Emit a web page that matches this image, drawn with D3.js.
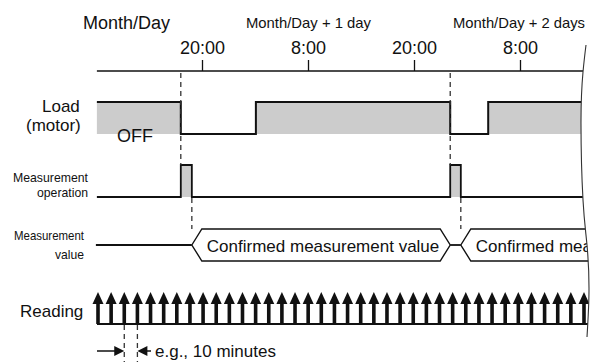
<!DOCTYPE html>
<html><head><meta charset="utf-8">
<script src="https://cdn.jsdelivr.net/npm/d3@7"></script>
<style>body{margin:0;background:#fff}svg{display:block}text{font-family:"Liberation Sans",Arial,sans-serif;fill:#111}</style>
</head><body><svg id="c" width="595" height="362"></svg>
<script>
// ---- data (hours from Month/Day 00:00) ----
const tickHours = [20, 32, 44, 56];
const tickLabels = ["20:00", "8:00", "20:00", "8:00"];
const dayLabels = ["Month/Day", "Month/Day + 1 day", "Month/Day + 2 days"];
const loadTimes = [8.1, 17.6, 26.1, 48.1, 52.4, 66];   // state changes
const loadLevels = [1, 0, 1, 0, 1];                    // 1 = ON (motor running), 0 = OFF
const measureStart = [17.6, 48.1];
const measureEnd = [18.85, 49.3];
const valueStart = [18.85, 49.3];
const valueEnd = [48.1, 72];
const valueLabels = ["Confirmed measurement value", "Confirmed mea"];
const readingCount = 38;
const rowLabels = ["Load", "(motor)", "Measurement", "operation", "Measurement", "value", "Reading"];

const svg = d3.select("#c");
const x = d3.scaleLinear().domain([20, 56]).range([202, 520]);
const xEnd = x(66);
const yLoad = d3.scaleLinear().domain([0, 1]).range([134, 102]);
const yOp = d3.scaleLinear().domain([0, 1]).range([197, 165]);
const yVal = 245, hv = 16, tip = 10;
const axisY = 71;

// ---- break curve & clip ----
const breakPts = [[586,45],[583,72],[581,120],[583,200],[587,245],[589,290],[587,337]];
const breakLine = d3.line().curve(d3.curveNatural);
const bStr = breakLine(breakPts);
const clipD = "M0,0L586,0" + bStr.replace(/^M/, "L") + "L587,362L0,362Z";
svg.append("defs").append("clipPath").attr("id", "clip").append("path").attr("d", clipD);
const g = svg.append("g").attr("clip-path", "url(#clip)");

// ---- time axis ----
const axis = d3.axisTop(x).tickValues(tickHours).tickFormat((d, i) => tickLabels[i]).tickSize(11).tickSizeOuter(0);
const ax = g.append("g").attr("transform", `translate(0,${axisY})`).call(axis);
ax.select(".domain").remove();
ax.selectAll(".tick line").attr("stroke", "#111").attr("stroke-width", 1.3);
ax.selectAll(".tick text").attr("font-size", 18).attr("dy", "-0.15em").attr("fill", "#111").attr("font-family", '"Liberation Sans",Arial,sans-serif');
g.append("line").attr("x1", x(8.1)).attr("x2", xEnd).attr("y1", axisY).attr("y2", axisY).attr("stroke", "#111").attr("stroke-width", 1.3);

const dayPos = [[83, 29, 18, null], [246, 28, 15, 125], [453, 28, 15, 132]];
dayLabels.forEach((t, i) => {
  const p = dayPos[i];
  const tx = svg.append("text").attr("x", p[0]).attr("y", p[1]).attr("font-size", p[2]).text(t);
  if (p[3]) tx.attr("textLength", p[3]).attr("lengthAdjust", "spacingAndGlyphs");
});

// ---- load row ----
const loadSeg = loadLevels.map((l, i) => ({ a: loadTimes[i], b: loadTimes[i + 1], l }));
g.selectAll("rect.load").data(loadSeg.filter(d => d.l === 1)).join("rect")
  .attr("x", d => x(d.a)).attr("width", d => x(d.b) - x(d.a))
  .attr("y", yLoad(1)).attr("height", yLoad(0) - yLoad(1)).attr("fill", "#cccccc");
const loadPts = [];
loadSeg.forEach(d => { loadPts.push([x(d.a), yLoad(d.l)]); loadPts.push([x(d.b), yLoad(d.l)]); });
g.append("path").attr("d", d3.line()(loadPts)).attr("fill", "none").attr("stroke", "#111").attr("stroke-width", 2);

// ---- measurement operation ----
const opPts = [[x(8.1), yOp(0)]];
measureStart.forEach((s, i) => {
  opPts.push([x(s), yOp(0)], [x(s), yOp(1)], [x(measureEnd[i]), yOp(1)], [x(measureEnd[i]), yOp(0)]);
});
opPts.push([xEnd, yOp(0)]);
g.selectAll("rect.op").data(measureStart).join("rect")
  .attr("x", d => x(d)).attr("width", (d, i) => x(measureEnd[i]) - x(d))
  .attr("y", yOp(1)).attr("height", yOp(0) - yOp(1)).attr("fill", "#cccccc");
g.append("path").attr("d", d3.line()(opPts)).attr("fill", "none").attr("stroke", "#111").attr("stroke-width", 1.8);

// ---- dashed guides ----
const dash = "5,4";
measureStart.forEach(s => {
  g.append("line").attr("x1", x(s)).attr("x2", x(s)).attr("y1", axisY + 2).attr("y2", yOp(1))
    .attr("stroke", "#333").attr("stroke-width", 1.3).attr("stroke-dasharray", dash);
});
measureEnd.forEach(s => {
  g.append("line").attr("x1", x(s)).attr("x2", x(s)).attr("y1", yOp(0) + 1).attr("y2", yVal - hv)
    .attr("stroke", "#333").attr("stroke-width", 1.3).attr("stroke-dasharray", dash);
});

// ---- measurement value ----
g.append("line").attr("x1", x(8.1) - 1).attr("x2", x(valueStart[0])).attr("y1", yVal).attr("y2", yVal).attr("stroke", "#111").attr("stroke-width", 1.8);
for (let i = 0; i < valueStart.length - 1; i++) {
  g.append("line").attr("x1", x(valueEnd[i])).attr("x2", x(valueStart[i + 1])).attr("y1", yVal).attr("y2", yVal).attr("stroke", "#111").attr("stroke-width", 1.8);
}
valueStart.forEach((s, i) => {
  const a = x(s), b = x(valueEnd[i]);
  const pts = [[a, yVal], [a + tip, yVal - hv], [b - tip, yVal - hv], [b, yVal], [b - tip, yVal + hv], [a + tip, yVal + hv]];
  g.append("path").attr("d", d3.line()(pts) + "Z").attr("fill", "#fff").attr("stroke", "#111").attr("stroke-width", 1.4);
  g.append("text").attr("x", a + 15).attr("y", yVal + 7).attr("font-size", 17).text(valueLabels[i]);
});

// ---- reading arrows ----
const xr = d3.scalePoint().domain(d3.range(readingCount)).range([98, 584]);
const baseY = 324;
const ag = g.append("g");
d3.range(readingCount).forEach(i => {
  const cx = xr(i);
  ag.append("rect").attr("x", cx - 1.8).attr("width", 3.6).attr("y", 302).attr("height", baseY - 302).attr("fill", "#111");
  ag.append("path").attr("d", d3.line()([[cx, 292], [cx + 5.5, 304], [cx - 5.5, 304]]) + "Z").attr("fill", "#111");
});
g.append("line").attr("x1", 97).attr("x2", 595).attr("y1", baseY).attr("y2", baseY).attr("stroke", "#111").attr("stroke-width", 2);

// dimension
[2, 3].forEach(i => {
  svg.append("line").attr("x1", xr(i)).attr("x2", xr(i)).attr("y1", baseY + 1).attr("y2", 362)
    .attr("stroke", "#333").attr("stroke-width", 1.3).attr("stroke-dasharray", dash);
});
const dy = 351;
svg.append("line").attr("x1", 97).attr("x2", xr(2) - 6).attr("y1", dy).attr("y2", dy).attr("stroke", "#111").attr("stroke-width", 1.5);
svg.append("path").attr("d", d3.line()([[xr(2), dy], [xr(2) - 10, dy - 5], [xr(2) - 10, dy + 5]]) + "Z").attr("fill", "#111");
svg.append("line").attr("x1", xr(3) + 6).attr("x2", 151).attr("y1", dy).attr("y2", dy).attr("stroke", "#111").attr("stroke-width", 1.5);
svg.append("path").attr("d", d3.line()([[xr(3), dy], [xr(3) + 10, dy - 5], [xr(3) + 10, dy + 5]]) + "Z").attr("fill", "#111");
svg.append("text").attr("x", 155).attr("y", 357).attr("font-size", 17).text("e.g., 10 minutes");

// break curve
svg.append("path").attr("d", bStr).attr("fill", "none").attr("stroke", "#333").attr("stroke-width", 1.1);

// ---- row labels ----
svg.append("text").attr("x", 42).attr("y", 112).attr("font-size", 17).text(rowLabels[0]);
svg.append("text").attr("x", 26).attr("y", 131).attr("font-size", 17).text(rowLabels[1]);
svg.append("text").attr("x", 117).attr("y", 142).attr("font-size", 18).text("OFF");
const small = [[88, 182, 75, rowLabels[2]], [88, 197, 51, rowLabels[3]], [84, 240, 70, rowLabels[4]], [84, 259, 29, rowLabels[5]]];
small.forEach(s => {
  svg.append("text").attr("x", s[0] - s[2]).attr("y", s[1]).attr("font-size", 13)
    .attr("textLength", s[2]).attr("lengthAdjust", "spacingAndGlyphs").text(s[3]);
});
svg.append("text").attr("x", 20).attr("y", 317).attr("font-size", 17).text(rowLabels[6]);
</script></body></html>
